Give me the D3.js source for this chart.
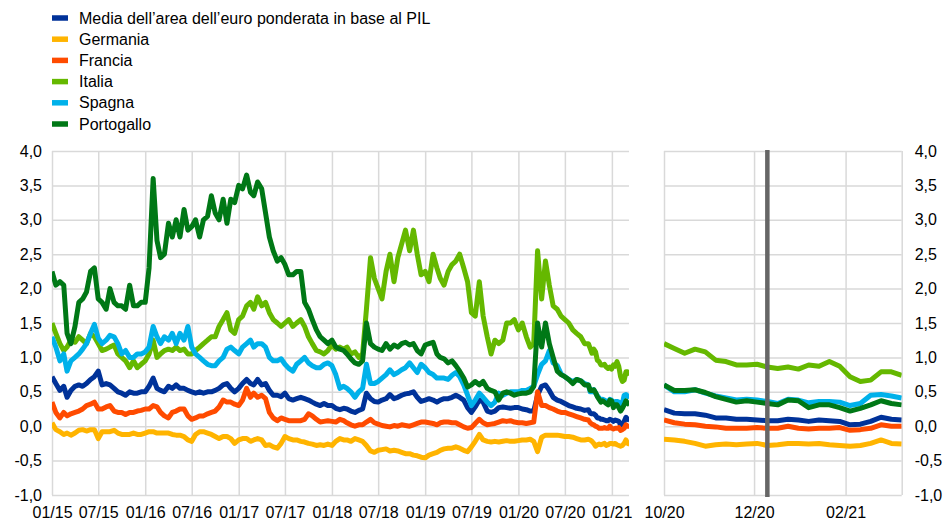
<!DOCTYPE html>
<html>
<head>
<meta charset="utf-8">
<script src="https://cdn.jsdelivr.net/npm/d3@7"></script>
<style>
  body { margin: 0; background: #fff; }
  text { font-family: Arial, "Liberation Sans", sans-serif; fill: #000; }
</style>
</head>
<body>
<svg width="943" height="521"></svg>
<script>
// dates: twice a month up to Sep 2020, weekly afterwards
var dates = [
  "2015-01-01","2015-01-16","2015-02-01","2015-02-16","2015-03-01","2015-03-16","2015-04-01","2015-04-16","2015-05-01","2015-05-16","2015-06-01","2015-06-16",
  "2015-07-01","2015-07-16","2015-08-01","2015-08-16","2015-09-01","2015-09-16","2015-10-01","2015-10-16","2015-11-01","2015-11-16","2015-12-01","2015-12-16",
  "2016-01-01","2016-01-16","2016-02-01","2016-02-16","2016-03-01","2016-03-16","2016-04-01","2016-04-16","2016-05-01","2016-05-16","2016-06-01","2016-06-16",
  "2016-07-01","2016-07-16","2016-08-01","2016-08-16","2016-09-01","2016-09-16","2016-10-01","2016-10-16","2016-11-01","2016-11-16","2016-12-01","2016-12-16",
  "2017-01-01","2017-01-16","2017-02-01","2017-02-16","2017-03-01","2017-03-16","2017-04-01","2017-04-16","2017-05-01","2017-05-16","2017-06-01","2017-06-16",
  "2017-07-01","2017-07-16","2017-08-01","2017-08-16","2017-09-01","2017-09-16","2017-10-01","2017-10-16","2017-11-01","2017-11-16","2017-12-01","2017-12-16",
  "2018-01-01","2018-01-16","2018-02-01","2018-02-16","2018-03-01","2018-03-16","2018-04-01","2018-04-16","2018-05-01","2018-05-16","2018-06-01","2018-06-16",
  "2018-07-01","2018-07-16","2018-08-01","2018-08-16","2018-09-01","2018-09-16","2018-10-01","2018-10-16","2018-11-01","2018-11-16","2018-12-01","2018-12-16",
  "2019-01-01","2019-01-16","2019-02-01","2019-02-16","2019-03-01","2019-03-16","2019-04-01","2019-04-16","2019-05-01","2019-05-16","2019-06-01","2019-06-16",
  "2019-07-01","2019-07-16","2019-08-01","2019-08-16","2019-09-01","2019-09-16","2019-10-01","2019-10-16","2019-11-01","2019-11-16","2019-12-01","2019-12-16",
  "2020-01-01","2020-01-16","2020-02-01","2020-02-16","2020-03-01","2020-03-16","2020-04-01","2020-04-16","2020-05-01","2020-05-16","2020-06-01","2020-06-16",
  "2020-07-01","2020-07-16","2020-08-01","2020-08-16","2020-09-01","2020-09-16",
  "2020-10-01","2020-10-08","2020-10-15","2020-10-22","2020-10-29","2020-11-05","2020-11-12","2020-11-19","2020-11-26",
  "2020-12-03","2020-12-10","2020-12-17","2020-12-24","2020-12-31","2021-01-07","2021-01-14","2021-01-21","2021-01-28",
  "2021-02-04","2021-02-11","2021-02-18","2021-02-25","2021-03-04","2021-03-11"
];

var mediaEA = [
  0.72,0.62,0.52,0.58,0.42,0.52,0.58,0.60,0.58,0.62,0.68,0.72,0.80,0.60,0.62,0.60,0.55,0.50,0.48,0.45,0.50,0.48,0.48,0.50,
  0.50,0.58,0.70,0.55,0.52,0.50,0.58,0.55,0.60,0.55,0.55,0.52,0.50,0.48,0.50,0.48,0.50,0.50,0.52,0.55,0.60,0.62,0.55,0.50,
  0.55,0.62,0.68,0.62,0.60,0.68,0.60,0.62,0.52,0.45,0.45,0.43,0.48,0.40,0.38,0.40,0.42,0.40,0.38,0.35,0.32,0.30,0.33,0.30,
  0.30,0.26,0.24,0.26,0.25,0.22,0.20,0.23,0.25,0.48,0.40,0.36,0.35,0.38,0.40,0.46,0.40,0.42,0.45,0.47,0.48,0.50,0.42,0.36,
  0.38,0.40,0.38,0.35,0.38,0.40,0.40,0.42,0.45,0.42,0.38,0.27,0.20,0.28,0.38,0.35,0.22,0.20,0.22,0.27,0.28,0.27,0.26,0.27,
  0.27,0.25,0.24,0.22,0.22,0.45,0.58,0.60,0.52,0.42,0.38,0.36,0.33,0.30,0.28,0.26,0.25,0.23,
  0.24,0.19,0.18,0.18,0.16,0.12,0.12,0.10,0.10,0.09,0.08,0.08,0.10,0.09,0.07,0.09,0.08,0.07,0.02,0.03,0.07,0.13,0.10,0.09
];
var germania = [
  0.05,-0.05,-0.08,-0.12,-0.10,-0.13,-0.10,-0.06,-0.05,-0.07,-0.05,-0.05,-0.18,-0.08,-0.08,-0.08,-0.06,-0.10,-0.12,-0.12,-0.12,-0.10,-0.12,-0.12,
  -0.10,-0.08,-0.08,-0.10,-0.10,-0.10,-0.10,-0.12,-0.13,-0.13,-0.15,-0.20,-0.22,-0.12,-0.08,-0.08,-0.10,-0.12,-0.15,-0.18,-0.15,-0.15,-0.18,-0.25,
  -0.20,-0.18,-0.18,-0.22,-0.20,-0.18,-0.20,-0.28,-0.27,-0.30,-0.32,-0.25,-0.15,-0.18,-0.20,-0.20,-0.22,-0.23,-0.25,-0.26,-0.28,-0.27,-0.28,-0.26,
  -0.28,-0.22,-0.18,-0.20,-0.20,-0.22,-0.18,-0.20,-0.22,-0.28,-0.36,-0.38,-0.35,-0.34,-0.33,-0.36,-0.35,-0.36,-0.38,-0.40,-0.40,-0.42,-0.43,-0.45,
  -0.46,-0.42,-0.40,-0.38,-0.35,-0.33,-0.32,-0.32,-0.30,-0.32,-0.35,-0.37,-0.30,-0.22,-0.12,-0.20,-0.22,-0.23,-0.22,-0.23,-0.22,-0.21,-0.22,-0.22,
  -0.21,-0.20,-0.20,-0.19,-0.22,-0.37,-0.16,-0.13,-0.13,-0.13,-0.13,-0.14,-0.15,-0.15,-0.16,-0.18,-0.20,-0.20,
  -0.19,-0.20,-0.22,-0.25,-0.29,-0.27,-0.26,-0.27,-0.26,-0.25,-0.28,-0.27,-0.25,-0.25,-0.26,-0.25,-0.27,-0.28,-0.29,-0.28,-0.25,-0.20,-0.25,-0.26
];
var francia = [
  0.35,0.20,0.12,0.20,0.15,0.18,0.20,0.22,0.25,0.30,0.32,0.35,0.25,0.25,0.28,0.30,0.22,0.20,0.20,0.17,0.20,0.20,0.22,0.23,
  0.25,0.25,0.30,0.28,0.20,0.15,0.12,0.20,0.22,0.25,0.25,0.15,0.10,0.12,0.15,0.15,0.18,0.20,0.22,0.28,0.38,0.35,0.35,0.32,
  0.30,0.38,0.55,0.42,0.48,0.42,0.45,0.40,0.20,0.12,0.08,0.12,0.10,0.08,0.08,0.08,0.08,0.10,0.18,0.15,0.10,0.06,0.07,0.08,
  0.07,0.06,0.10,0.08,0.05,0.02,0.00,0.02,0.02,0.06,0.10,0.05,0.03,0.01,0.00,-0.01,0.01,0.00,0.02,0.01,0.00,0.02,0.04,0.06,
  0.06,0.05,0.04,0.02,0.05,0.06,0.06,0.05,0.05,0.02,-0.01,-0.03,-0.02,0.04,0.10,0.05,0.02,0.03,0.04,0.06,0.08,0.07,0.08,0.06,
  0.05,0.05,0.04,0.05,0.06,0.50,0.30,0.30,0.27,0.25,0.22,0.20,0.20,0.18,0.16,0.14,0.12,0.10,
  0.09,0.05,0.03,0.02,0.00,-0.01,-0.03,-0.03,-0.03,-0.02,-0.03,-0.03,0.00,-0.03,-0.04,-0.03,-0.03,-0.02,-0.06,-0.05,-0.03,0.02,0.00,0.00
];
var italia = [
  1.50,1.35,1.20,1.10,1.15,1.25,1.22,1.30,1.25,1.20,1.35,1.30,1.20,1.10,1.12,1.15,1.18,1.05,1.00,0.95,0.85,0.95,0.85,0.90,
  0.95,1.05,1.25,1.00,1.05,1.10,1.12,1.10,1.15,1.10,1.12,1.05,1.05,1.10,1.15,1.20,1.25,1.30,1.30,1.45,1.55,1.65,1.40,1.35,
  1.55,1.60,1.75,1.80,1.70,1.88,1.75,1.80,1.65,1.55,1.50,1.45,1.50,1.55,1.45,1.50,1.55,1.45,1.30,1.20,1.10,1.08,1.05,1.10,
  1.18,1.12,1.15,1.12,1.15,1.05,1.08,1.00,1.05,1.70,2.45,2.15,2.00,1.85,2.25,2.50,2.10,2.45,2.65,2.85,2.55,2.85,2.50,2.20,
  2.25,2.10,2.50,2.30,2.15,2.05,2.25,2.35,2.40,2.50,2.30,2.10,1.65,1.60,2.10,1.60,1.30,1.05,1.25,1.20,1.25,1.50,1.50,1.55,
  1.40,1.50,1.30,1.15,1.20,2.55,1.85,2.40,2.05,1.75,1.70,1.60,1.55,1.50,1.40,1.35,1.30,1.20,
  1.20,1.13,1.06,1.12,1.08,0.96,0.94,0.89,0.89,0.90,0.86,0.84,0.86,0.83,0.89,0.87,0.94,0.87,0.72,0.65,0.67,0.79,0.79,0.74
];
var spagna = [
  1.30,1.15,0.95,1.05,0.80,0.95,1.00,1.05,1.12,1.20,1.35,1.48,1.28,1.20,1.25,1.32,1.30,1.20,1.05,1.10,1.00,1.00,1.05,1.05,
  1.08,1.15,1.45,1.30,1.20,1.30,1.25,1.35,1.20,1.35,1.25,1.45,1.15,1.05,1.00,0.95,0.90,0.88,0.88,0.95,1.00,1.12,1.15,1.10,
  1.05,1.15,1.20,1.25,1.15,1.20,1.20,1.15,1.00,0.95,0.95,0.98,0.90,0.84,0.80,0.90,0.95,1.00,0.92,0.88,0.85,0.85,0.90,0.92,
  0.88,0.75,0.55,0.58,0.55,0.50,0.42,0.50,0.55,0.90,0.62,0.62,0.65,0.70,0.75,0.82,0.75,0.78,0.82,0.85,0.92,0.85,0.78,0.90,
  0.85,0.78,0.75,0.70,0.70,0.70,0.68,0.74,0.78,0.72,0.60,0.45,0.30,0.38,0.48,0.42,0.35,0.30,0.35,0.48,0.45,0.48,0.50,0.50,
  0.50,0.52,0.52,0.55,0.58,0.75,0.90,0.95,1.10,0.92,0.88,0.76,0.72,0.68,0.65,0.68,0.66,0.62,
  0.60,0.50,0.50,0.53,0.48,0.44,0.41,0.38,0.39,0.38,0.36,0.33,0.39,0.38,0.34,0.36,0.36,0.35,0.30,0.33,0.45,0.46,0.44,0.41
];
var portogallo = [
  2.25,2.05,2.10,2.05,1.35,1.20,1.45,1.80,1.85,1.95,2.25,2.30,1.85,1.80,1.70,2.00,1.80,1.75,1.75,1.70,2.05,1.75,1.75,1.80,
  1.80,2.30,3.60,2.70,2.45,2.50,2.95,2.75,3.00,2.75,3.15,2.85,2.90,3.00,2.75,3.00,3.05,3.35,3.10,3.00,3.30,2.95,3.30,3.25,
  3.50,3.45,3.65,3.40,3.35,3.55,3.45,3.10,2.75,2.55,2.40,2.45,2.35,2.20,2.20,2.25,2.25,1.80,1.70,1.55,1.40,1.30,1.25,1.20,
  1.25,1.15,1.12,1.10,1.05,0.98,0.92,0.90,0.95,1.50,1.20,1.15,1.12,1.10,1.20,1.12,1.18,1.15,1.20,1.22,1.18,1.20,1.10,1.05,
  1.18,1.20,1.22,1.05,1.00,0.98,0.92,0.95,0.88,0.80,0.70,0.57,0.60,0.65,0.60,0.65,0.55,0.52,0.50,0.38,0.48,0.50,0.48,0.45,
  0.47,0.48,0.48,0.50,0.58,1.50,1.15,1.50,1.20,1.00,0.80,0.75,0.72,0.68,0.62,0.68,0.66,0.60,
  0.60,0.52,0.52,0.53,0.49,0.43,0.39,0.35,0.37,0.35,0.33,0.31,0.38,0.37,0.27,0.31,0.31,0.27,0.22,0.26,0.31,0.37,0.33,0.31
];

var seriesNames = ["Media dell\u2019area dell\u2019euro ponderata in base al PIL", "Germania", "Francia", "Italia", "Spagna", "Portogallo"];
var seriesValues = [mediaEA, germania, francia, italia, spagna, portogallo];
var seriesColors = ["#003299", "#ffb400", "#ff4b00", "#65b800", "#00b1ea", "#007816"];

var yTicks = [-1, -0.5, 0, 0.5, 1, 1.5, 2, 2.5, 3, 3.5, 4];
var leftTicks = ["2015-01-01","2015-07-01","2016-01-01","2016-07-01","2017-01-01","2017-07-01","2018-01-01",
                 "2018-07-01","2019-01-01","2019-07-01","2020-01-01","2020-07-01","2021-01-01"];
var rightTicks = ["2020-10-01","2020-12-01","2021-02-01"];
var markerDate = "2020-12-10";

var parse = d3.timeParse("%Y-%m-%d");
var fmtDate = d3.timeFormat("%m/%y");
var fmtNum = d3.formatLocale({decimal: ",", thousands: ".", grouping: [3], currency: ["", "\u20ac"], minus: "-"}).format(".1f");

var svg = d3.select("svg");
var plotTop = 151, plotBottom = 495;

var y = d3.scaleLinear().domain([-1, 4]).range([plotBottom, plotTop]);
var xL = d3.scaleTime().domain([parse("2015-01-01"), parse("2021-03-09")]).range([52, 629]);
var xR = d3.scaleTime().domain([parse("2020-10-01"), parse("2021-03-11")]).range([664, 901.7]);

var series = seriesValues.map(function(vals, i) {
  return {
    name: seriesNames[i], color: seriesColors[i],
    values: vals.map(function(v, j) { return {date: parse(dates[j]), v: v}; })
  };
});

function panel(id, x, ticks, rightBorder) {
  var x0 = x.range()[0], x1 = x.range()[1];
  var g = svg.append("g");

  // horizontal grid
  g.append("g")
    .attr("transform", "translate(" + x0 + ",0)")
    .call(d3.axisLeft(y).tickValues(yTicks).tickSize(-(x1 - x0)).tickFormat(""))
    .call(function(s) { s.select(".domain").remove(); })
    .selectAll("line").attr("stroke", "#d9d9d9").attr("stroke-width", 1.5);

  // vertical grid
  var vt = ticks.map(parse);
  if (rightBorder) vt = vt.concat([x.domain()[1]]);
  g.append("g")
    .attr("transform", "translate(0," + plotBottom + ")")
    .call(d3.axisBottom(x).tickValues(vt).tickSize(-(plotBottom - plotTop)).tickFormat(""))
    .call(function(s) { s.select(".domain").remove(); })
    .selectAll("line").attr("stroke", "#d9d9d9").attr("stroke-width", 1.5);

  // date labels
  g.append("g")
    .attr("transform", "translate(0," + plotBottom + ")")
    .call(d3.axisBottom(x).tickValues(ticks.map(parse)).tickFormat(fmtDate).tickSize(0).tickPadding(12))
    .call(function(s) { s.select(".domain").remove(); })
    .selectAll("text").attr("font-size", 16).attr("fill", "#000");

  svg.append("clipPath").attr("id", id)
    .append("rect").attr("x", x0).attr("y", 0).attr("width", x1 - x0).attr("height", 521);

  var line = d3.line()
    .x(function(d) { return x(d.date); })
    .y(function(d) { return y(d.v); });

  var lg = g.append("g").attr("clip-path", "url(#" + id + ")");
  lg.selectAll("path")
    .data(series)
    .enter().append("path")
    .attr("fill", "none")
    .attr("stroke", function(d) { return d.color; })
    .attr("stroke-width", 5)
    .attr("stroke-linejoin", "round")
    .attr("d", function(d) {
      return line(d.values.filter(function(p) { return p.date >= x.domain()[0]; }));
    });
  return g;
}

panel("clipL", xL, leftTicks, false);
var right = panel("clipR", xR, rightTicks, true);

// vertical marker line (right panel)
right.append("line")
  .attr("x1", xR(parse(markerDate))).attr("x2", xR(parse(markerDate)))
  .attr("y1", plotTop - 1).attr("y2", plotBottom + 2)
  .attr("stroke", "#666").attr("stroke-width", 4.5);

// y axes
svg.append("g")
  .attr("transform", "translate(52,0)")
  .call(d3.axisLeft(y).tickValues(yTicks).tickFormat(fmtNum).tickSize(0).tickPadding(10))
  .call(function(s) { s.select(".domain").remove(); })
  .selectAll("text").attr("font-size", 16).attr("fill", "#000");

svg.append("g")
  .attr("transform", "translate(901.7,0)")
  .call(d3.axisRight(y).tickValues(yTicks).tickFormat(fmtNum).tickSize(0).tickPadding(13))
  .call(function(s) { s.select(".domain").remove(); })
  .selectAll("text").attr("font-size", 16).attr("fill", "#000");

// legend
var legend = svg.append("g").selectAll("g")
  .data(series)
  .enter().append("g")
  .attr("transform", function(d, i) { return "translate(52," + (18 + i * 21.2) + ")"; });
legend.append("rect")
  .attr("x", 0).attr("y", -2.75).attr("width", 16).attr("height", 5.5)
  .attr("fill", function(d) { return d.color; });
legend.append("text")
  .attr("x", 27).attr("dy", "0.35em")
  .attr("font-size", 16)
  .text(function(d) { return d.name; });
</script>
</body>
</html>
